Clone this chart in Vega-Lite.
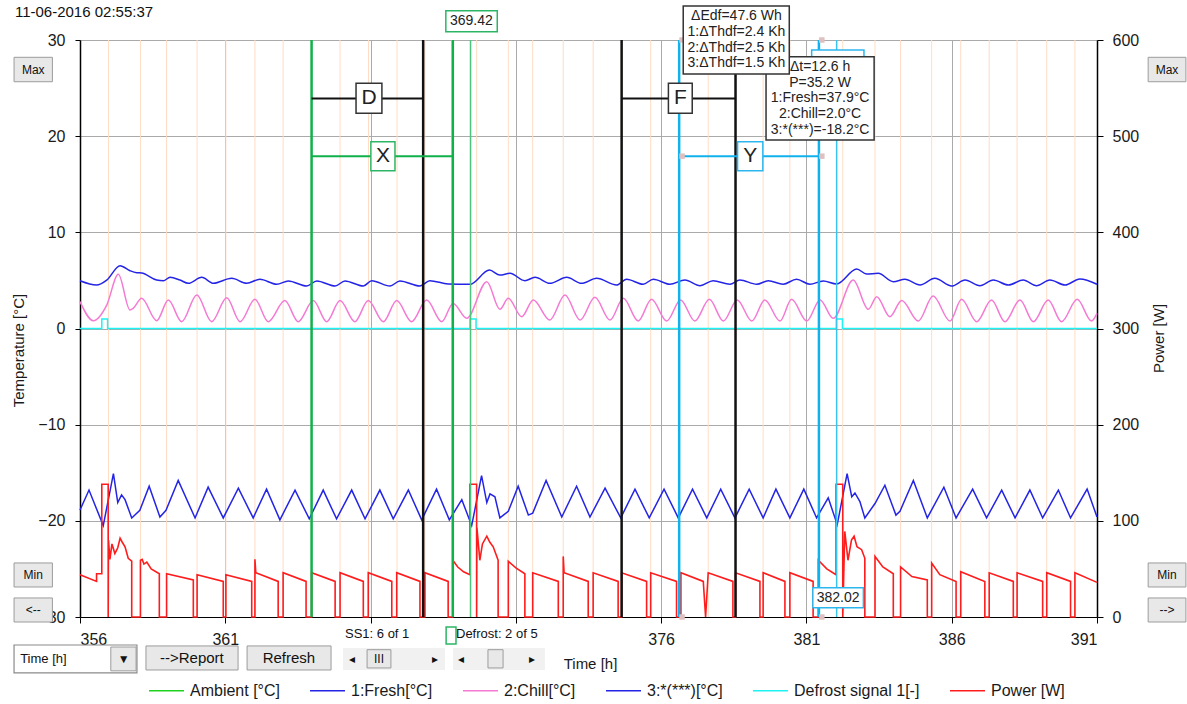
{
"$schema": "https://vega.github.io/schema/vega-lite/v6.json",
"width": 1017, "height": 577,
"autosize": {"type": "none"},
"padding": {"left": 80, "top": 40, "right": 90, "bottom": 87},
"background": "white",
"config": {
 "view": {"stroke": null},
 "font": "Liberation Sans",
 "axis": {"zindex": 0, "labelFont": "Liberation Sans", "labelFontSize": 16, "labelColor": "#1a1a1a", "titleFont": "Liberation Sans", "titleFontSize": 15, "titleFontWeight": "normal", "titleColor": "#1a1a1a", "domainColor": "#000000", "domainWidth": 1.5, "tickColor": "#000000", "tickWidth": 1, "gridColor": "#aaaaaa", "gridOpacity": 1, "gridWidth": 1}
},
"datasets": {
 "tan": [{"t":356.98},{"t":358.08},{"t":358.98},{"t":360.03},{"t":361.02},{"t":362.02},{"t":362.99},{"t":363.97},{"t":364.95},{"t":365.93},{"t":366.91},{"t":367.87},{"t":368.8},{"t":369.65},{"t":370.74},{"t":371.58},{"t":372.63},{"t":373.66},{"t":374.64},{"t":375.64},{"t":376.62},{"t":377.62},{"t":378.56},{"t":379.51},{"t":380.43},{"t":381.43},{"t":382.25},{"t":383.36},{"t":384.24},{"t":385.31},{"t":386.31},{"t":387.29},{"t":388.25},{"t":389.27},{"t":390.24}],
 "fresh": [{"t":356.0,"v":4.97},{"t":356.57,"v":4.52},{"t":356.92,"v":5.04},{"t":357.38,"v":6.53},{"t":357.72,"v":6.01},{"t":357.95,"v":5.8},{"t":358.12,"v":5.77},{"t":358.64,"v":5.04},{"t":358.87,"v":4.97},{"t":359.1,"v":5.32},{"t":359.44,"v":5.04},{"t":359.73,"v":4.7},{"t":360.19,"v":5.32},{"t":360.59,"v":4.7},{"t":361.22,"v":5.22},{"t":361.74,"v":4.7},{"t":362.19,"v":5.12},{"t":362.77,"v":4.6},{"t":363.17,"v":4.94},{"t":363.8,"v":4.42},{"t":364.15,"v":4.94},{"t":364.78,"v":4.42},{"t":365.12,"v":4.94},{"t":365.75,"v":4.42},{"t":366.04,"v":4.97},{"t":366.67,"v":4.42},{"t":367.01,"v":4.94},{"t":367.7,"v":4.42},{"t":368.04,"v":4.97},{"t":368.67,"v":4.63},{"t":369.42,"v":4.6},{"t":370.09,"v":6.08},{"t":370.45,"v":5.56},{"t":370.8,"v":5.74},{"t":371.31,"v":4.97},{"t":371.66,"v":5.32},{"t":372.17,"v":4.7},{"t":372.75,"v":5.32},{"t":373.26,"v":4.7},{"t":373.78,"v":5.22},{"t":374.47,"v":4.52},{"t":374.81,"v":5.12},{"t":375.38,"v":4.6},{"t":375.73,"v":5.12},{"t":376.3,"v":4.6},{"t":376.82,"v":5.04},{"t":377.34,"v":4.45},{"t":377.79,"v":4.97},{"t":378.37,"v":4.6},{"t":378.71,"v":5.04},{"t":379.29,"v":4.6},{"t":379.69,"v":4.97},{"t":380.2,"v":4.6},{"t":380.66,"v":5.12},{"t":381.12,"v":4.6},{"t":381.58,"v":4.94},{"t":382.04,"v":4.63},{"t":382.73,"v":6.19},{"t":383.07,"v":5.67},{"t":383.47,"v":5.74},{"t":383.99,"v":4.87},{"t":384.39,"v":5.12},{"t":384.91,"v":4.52},{"t":385.42,"v":5.22},{"t":386.0,"v":4.42},{"t":386.46,"v":5.04},{"t":386.97,"v":4.45},{"t":387.43,"v":5.04},{"t":387.95,"v":4.52},{"t":388.46,"v":5.04},{"t":388.92,"v":4.45},{"t":389.38,"v":5.04},{"t":389.9,"v":4.52},{"t":390.41,"v":5.15},{"t":391.0,"v":4.6}],
 "chill": [{"t":356.0,"v":2.79},{"t":356.46,"v":0.81},{"t":356.92,"v":2.44},{"t":357.32,"v":5.63},{"t":357.72,"v":1.92},{"t":357.83,"v":2.1},{"t":358.12,"v":3.14},{"t":358.64,"v":0.81},{"t":359.04,"v":2.96},{"t":359.5,"v":0.71},{"t":360.02,"v":3.48},{"t":360.53,"v":0.71},{"t":361.05,"v":3.2},{"t":361.51,"v":0.71},{"t":362.02,"v":3.04},{"t":362.48,"v":0.71},{"t":363.05,"v":2.9},{"t":363.51,"v":0.71},{"t":364.03,"v":2.9},{"t":364.49,"v":0.71},{"t":364.95,"v":2.9},{"t":365.46,"v":0.71},{"t":365.92,"v":2.9},{"t":366.44,"v":0.71},{"t":366.9,"v":2.9},{"t":367.41,"v":0.71},{"t":367.93,"v":2.96},{"t":368.45,"v":0.71},{"t":368.84,"v":2.6},{"t":369.31,"v":1.06},{"t":370.0,"v":4.87},{"t":370.45,"v":2.0},{"t":370.74,"v":3.14},{"t":371.2,"v":1.23},{"t":371.6,"v":2.96},{"t":372.17,"v":0.88},{"t":372.69,"v":3.48},{"t":373.21,"v":0.88},{"t":373.72,"v":3.24},{"t":374.24,"v":0.88},{"t":374.7,"v":3.14},{"t":375.21,"v":0.78},{"t":375.67,"v":3.04},{"t":376.19,"v":0.78},{"t":376.67,"v":2.96},{"t":377.16,"v":0.78},{"t":377.66,"v":3.04},{"t":378.14,"v":0.78},{"t":378.62,"v":2.96},{"t":379.12,"v":0.78},{"t":379.57,"v":2.96},{"t":380.09,"v":0.78},{"t":380.49,"v":3.04},{"t":381.01,"v":0.78},{"t":381.47,"v":2.96},{"t":381.92,"v":1.06},{"t":382.61,"v":5.04},{"t":383.13,"v":2.0},{"t":383.42,"v":3.31},{"t":383.87,"v":1.23},{"t":384.28,"v":2.9},{"t":384.85,"v":0.78},{"t":385.36,"v":3.38},{"t":385.94,"v":0.78},{"t":386.34,"v":3.04},{"t":386.86,"v":0.71},{"t":387.37,"v":2.96},{"t":387.83,"v":0.71},{"t":388.35,"v":2.96},{"t":388.81,"v":0.71},{"t":389.32,"v":2.96},{"t":389.78,"v":0.71},{"t":390.32,"v":3.04},{"t":390.81,"v":0.78},{"t":391.0,"v":1.58}],
 "frz": [{"t":356.0,"v":-18.87},{"t":356.31,"v":-16.8},{"t":356.8,"v":-20.5},{"t":357.15,"v":-15.1},{"t":357.3,"v":-18.1},{"t":357.43,"v":-17.3},{"t":357.55,"v":-17.8},{"t":357.78,"v":-19.7},{"t":358.06,"v":-18.9},{"t":358.38,"v":-16.4},{"t":358.75,"v":-19.6},{"t":358.96,"v":-18.9},{"t":359.38,"v":-15.8},{"t":359.96,"v":-19.7},{"t":360.41,"v":-16.5},{"t":360.93,"v":-19.7},{"t":361.45,"v":-16.6},{"t":361.96,"v":-19.7},{"t":362.42,"v":-16.7},{"t":362.88,"v":-19.9},{"t":363.4,"v":-16.8},{"t":363.89,"v":-19.8},{"t":364.37,"v":-16.8},{"t":364.83,"v":-19.8},{"t":365.35,"v":-16.8},{"t":365.81,"v":-19.8},{"t":366.32,"v":-16.8},{"t":366.78,"v":-19.8},{"t":367.3,"v":-16.8},{"t":367.76,"v":-19.9},{"t":368.27,"v":-16.7},{"t":368.71,"v":-19.9},{"t":369.14,"v":-17.8},{"t":369.48,"v":-20.5},{"t":369.82,"v":-15.3},{"t":370.0,"v":-18.1},{"t":370.11,"v":-17.2},{"t":370.28,"v":-17.5},{"t":370.45,"v":-19.7},{"t":370.74,"v":-19.0},{"t":371.08,"v":-16.4},{"t":371.43,"v":-19.4},{"t":371.58,"v":-19.2},{"t":372.04,"v":-15.8},{"t":372.58,"v":-19.6},{"t":373.09,"v":-16.4},{"t":373.55,"v":-19.6},{"t":374.07,"v":-16.6},{"t":374.61,"v":-19.7},{"t":375.1,"v":-16.7},{"t":375.59,"v":-19.7},{"t":376.1,"v":-16.7},{"t":376.59,"v":-19.7},{"t":377.08,"v":-16.7},{"t":377.57,"v":-19.7},{"t":378.05,"v":-16.7},{"t":378.54,"v":-19.7},{"t":379.03,"v":-16.7},{"t":379.51,"v":-19.7},{"t":379.95,"v":-16.7},{"t":380.43,"v":-19.7},{"t":380.91,"v":-16.7},{"t":381.35,"v":-19.7},{"t":381.75,"v":-17.6},{"t":382.06,"v":-20.4},{"t":382.4,"v":-15.1},{"t":382.56,"v":-17.5},{"t":382.67,"v":-17.1},{"t":382.84,"v":-18.0},{"t":383.01,"v":-19.7},{"t":383.36,"v":-18.2},{"t":383.7,"v":-16.3},{"t":384.08,"v":-19.4},{"t":384.22,"v":-19.0},{"t":384.68,"v":-15.8},{"t":385.16,"v":-19.7},{"t":385.73,"v":-16.5},{"t":386.15,"v":-19.7},{"t":386.72,"v":-16.7},{"t":387.2,"v":-19.7},{"t":387.72,"v":-16.8},{"t":388.18,"v":-19.7},{"t":388.69,"v":-16.8},{"t":389.13,"v":-19.7},{"t":389.67,"v":-16.8},{"t":390.09,"v":-19.7},{"t":390.66,"v":-16.7},{"t":391.0,"v":-19.6}],
 "defrost": [{"t":356.0,"v":0},{"t":356.75,"v":0},{"t":356.75,"v":1},{"t":356.95,"v":1},{"t":356.95,"v":0},{"t":369.42,"v":0},{"t":369.42,"v":1},{"t":369.63,"v":1},{"t":369.63,"v":0},{"t":382.03,"v":0},{"t":382.03,"v":1},{"t":382.24,"v":1},{"t":382.24,"v":0},{"t":391.0,"v":0}],
 "power": [{"t":356.0,"p":44},{"t":356.57,"p":37},{"t":356.57,"p":45},{"t":356.75,"p":45},{"t":356.75,"p":138},{"t":356.97,"p":138},{"t":356.97,"p":0},{"t":356.98,"p":80},{"t":357.03,"p":60},{"t":357.1,"p":76},{"t":357.2,"p":66},{"t":357.3,"p":72},{"t":357.38,"p":82},{"t":357.45,"p":78},{"t":357.55,"p":73},{"t":357.66,"p":61},{"t":357.78,"p":58},{"t":357.78,"p":0},{"t":358.08,"p":0},{"t":358.08,"p":59},{"t":358.14,"p":60},{"t":358.2,"p":55},{"t":358.3,"p":57},{"t":358.45,"p":50},{"t":358.73,"p":45},{"t":358.73,"p":0},{"t":358.98,"p":0},{"t":358.98,"p":45},{"t":359.9,"p":38.5},{"t":359.9,"p":0},{"t":360.03,"p":0},{"t":360.03,"p":44},{"t":360.93,"p":37},{"t":360.93,"p":0},{"t":361.02,"p":0},{"t":361.02,"p":44},{"t":361.91,"p":37},{"t":361.91,"p":0},{"t":362.02,"p":0},{"t":362.02,"p":60},{"t":362.05,"p":46},{"t":362.82,"p":37},{"t":362.82,"p":0},{"t":362.99,"p":0},{"t":362.99,"p":46},{"t":363.78,"p":37},{"t":363.78,"p":0},{"t":363.97,"p":0},{"t":363.97,"p":46},{"t":364.78,"p":37},{"t":364.78,"p":0},{"t":364.95,"p":0},{"t":364.95,"p":46},{"t":365.75,"p":37},{"t":365.75,"p":0},{"t":365.92,"p":0},{"t":365.92,"p":46},{"t":366.73,"p":37},{"t":366.73,"p":0},{"t":366.9,"p":0},{"t":366.9,"p":46},{"t":367.7,"p":37},{"t":367.7,"p":0},{"t":367.87,"p":0},{"t":367.87,"p":46},{"t":368.67,"p":37},{"t":368.67,"p":0},{"t":368.83,"p":0},{"t":368.83,"p":59},{"t":369.0,"p":52},{"t":369.2,"p":47},{"t":369.42,"p":44},{"t":369.42,"p":138},{"t":369.65,"p":138},{"t":369.65,"p":0},{"t":369.66,"p":93},{"t":369.76,"p":59},{"t":369.85,"p":76},{"t":370.0,"p":84},{"t":370.1,"p":78},{"t":370.22,"p":73},{"t":370.39,"p":59},{"t":370.39,"p":0},{"t":370.74,"p":0},{"t":370.74,"p":58},{"t":371.0,"p":51},{"t":371.31,"p":45},{"t":371.31,"p":0},{"t":371.58,"p":0},{"t":371.58,"p":46},{"t":372.46,"p":37},{"t":372.46,"p":0},{"t":372.63,"p":0},{"t":372.63,"p":63},{"t":372.66,"p":46},{"t":373.49,"p":37},{"t":373.49,"p":0},{"t":373.66,"p":0},{"t":373.66,"p":46},{"t":374.52,"p":37},{"t":374.52,"p":0},{"t":374.64,"p":0},{"t":374.64,"p":46},{"t":375.5,"p":37},{"t":375.5,"p":0},{"t":375.64,"p":0},{"t":375.64,"p":46},{"t":376.53,"p":37},{"t":376.53,"p":0},{"t":376.68,"p":0},{"t":376.68,"p":46},{"t":377.45,"p":37},{"t":377.53,"p":0},{"t":377.62,"p":46},{"t":378.47,"p":37},{"t":378.47,"p":0},{"t":378.56,"p":0},{"t":378.56,"p":46},{"t":379.4,"p":37},{"t":379.4,"p":0},{"t":379.51,"p":0},{"t":379.51,"p":46},{"t":380.26,"p":37},{"t":380.26,"p":0},{"t":380.43,"p":0},{"t":380.43,"p":46},{"t":381.23,"p":37},{"t":381.23,"p":0},{"t":381.41,"p":0},{"t":381.41,"p":59},{"t":381.7,"p":50},{"t":382.02,"p":44},{"t":382.02,"p":138},{"t":382.25,"p":138},{"t":382.25,"p":0},{"t":382.32,"p":89},{"t":382.43,"p":59},{"t":382.55,"p":80},{"t":382.64,"p":84},{"t":382.74,"p":73},{"t":382.9,"p":70},{"t":383.01,"p":61},{"t":383.01,"p":0},{"t":383.36,"p":0},{"t":383.36,"p":63},{"t":383.63,"p":52},{"t":383.99,"p":45},{"t":383.99,"p":0},{"t":384.24,"p":0},{"t":384.24,"p":52},{"t":384.63,"p":42},{"t":385.16,"p":38.5},{"t":385.16,"p":0},{"t":385.31,"p":0},{"t":385.31,"p":56},{"t":385.59,"p":44},{"t":386.15,"p":37},{"t":386.15,"p":0},{"t":386.31,"p":0},{"t":386.31,"p":47},{"t":387.14,"p":37},{"t":387.14,"p":0},{"t":387.29,"p":0},{"t":387.29,"p":46},{"t":388.12,"p":37},{"t":388.12,"p":0},{"t":388.25,"p":0},{"t":388.25,"p":46},{"t":389.13,"p":37},{"t":389.13,"p":0},{"t":389.27,"p":0},{"t":389.27,"p":46},{"t":390.09,"p":37},{"t":390.09,"p":0},{"t":390.24,"p":0},{"t":390.24,"p":46},{"t":391.0,"p":36}],
 "cursors": [{"t":363.97,"k":"g"},{"t":368.83,"k":"g"},{"t":369.44,"k":"gt"},{"t":367.81,"k":"b"},{"t":374.64,"k":"b"},{"t":378.56,"k":"b"},{"t":376.62,"k":"c"},{"t":381.43,"k":"c"},{"t":382.04,"k":"ct"}],
 "brackets": [{"t":363.97,"t2":367.81,"v":23.92,"k":"b"},{"t":374.64,"t2":378.56,"v":23.92,"k":"b"},{"t":363.97,"t2":368.83,"v":17.92,"k":"g"},{"t":376.62,"t2":381.43,"v":17.92,"k":"c"}],
 "marks": [{"t":376.72,"v":17.92},{"t":381.53,"v":17.92},{"t":376.72,"v":30},{"t":381.53,"v":30},{"t":376.72,"v":-30},{"t":381.53,"v":-30}],
 "hid": [{"t":381.18,"t2":382.98,"v":28.96,"v2":26.6,"txt":"382.02","tv":27.75,"tt":382.08}],
 "boxes": [{"t":379.61,"t2":383.33,"v":28.26,"v2":19.6,"k":"b"},{"t":376.76,"t2":380.41,"v":33.54,"v2":26.46,"k":"b"},{"t":365.5,"t2":366.39,"v":25.5,"v2":22.38,"k":"b"},{"t":366.01,"t2":366.84,"v":19.42,"v2":16.41,"k":"g"},{"t":376.25,"t2":377.07,"v":25.5,"v2":22.38,"k":"b"},{"t":378.63,"t2":379.5,"v":19.42,"v2":16.41,"k":"c"},{"t":368.59,"t2":370.36,"v":33.05,"v2":30.86,"k":"g"},{"t":381.22,"t2":382.96,"v":-26.95,"v2":-29.03,"k":"c"},{"t":368.6,"t2":368.94,"v":-31.04,"v2":-32.81,"k":"g"},{"t":353.73,"t2":357.96,"v":-32.91,"v2":-35.82,"k":"d"}],
 "buttons": [{"t":365.05,"t2":368.56,"v":-33.22,"v2":-35.51,"k":"bar"},{"t":368.84,"t2":372.0,"v":-33.22,"v2":-35.51,"k":"bar"},{"t":353.73,"t2":355.05,"v":28.2,"v2":25.66,"k":"btn"},{"t":353.73,"t2":355.05,"v":-24.38,"v2":-26.88,"k":"btn"},{"t":353.73,"t2":355.05,"v":-28.02,"v2":-30.52,"k":"btn"},{"t":392.76,"t2":394.06,"v":28.2,"v2":25.66,"k":"btn"},{"t":392.76,"t2":394.06,"v":-24.38,"v2":-26.88,"k":"btn"},{"t":392.76,"t2":394.06,"v":-28.02,"v2":-30.52,"k":"btn"},{"t":358.27,"t2":361.44,"v":-33.01,"v2":-35.51,"k":"btn"},{"t":361.75,"t2":364.64,"v":-33.01,"v2":-35.51,"k":"btn"},{"t":357.06,"t2":357.93,"v":-33.12,"v2":-35.6,"k":"btn"},{"t":365.88,"t2":366.7,"v":-33.4,"v2":-35.3,"k":"btn"},{"t":370.04,"t2":370.56,"v":-33.4,"v2":-35.3,"k":"btn"}],
 "ann": [{"t":378.59,"v":32.5,"txt":"ΔEdf=47.6 Wh\n1:ΔThdf=2.4 Kh\n2:ΔThdf=2.5 Kh\n3:ΔThdf=1.5 Kh"},{"t":381.47,"v":27.22,"txt":"Δt=12.6 h\nP=35.2 W\n1:Fresh=37.9°C\n2:Chill=2.0°C\n3:*(***)=-18.2°C"},{"t":369.47,"v":31.98,"txt":"369.42"},{"t":382.09,"v":-27.99,"txt":"382.02"}],
 "letters": [{"t":365.95,"v":23.92,"txt":"D"},{"t":366.43,"v":17.92,"txt":"X"},{"t":376.66,"v":23.92,"txt":"F"},{"t":379.07,"v":17.92,"txt":"Y"}],
 "btxt": [{"t":354.39,"v":26.93,"txt":"Max"},{"t":354.39,"v":-25.63,"txt":"Min"},{"t":354.39,"v":-29.27,"txt":"<--"},{"t":393.41,"v":26.93,"txt":"Max"},{"t":393.41,"v":-25.63,"txt":"Min"},{"t":393.41,"v":-29.27,"txt":"-->"},{"t":357.5,"v":-34.36,"txt":"▼"},{"t":365.36,"v":-34.36,"txt":"◂"},{"t":368.22,"v":-34.36,"txt":"▸"},{"t":369.11,"v":-34.36,"txt":"◂"},{"t":371.56,"v":-34.36,"txt":"▸"},{"t":366.29,"v":-34.36,"txt":"III"}],
 "bigtxt": [{"t":359.85,"v":-34.26,"txt":"-->Report"},{"t":363.19,"v":-34.26,"txt":"Refresh"}],
 "ltxt": [{"t":353.94,"v":-34.4,"txt":"Time [h]"},{"t":365.12,"v":-31.77,"txt":"SS1:  6 of 1"},{"t":368.94,"v":-31.77,"txt":"Defrost: 2 of 5"}],
 "date": [{"t":353.76,"v":32.91,"txt":"11-06-2016  02:55:37"}]
},
"resolve": {"scale": {"y": "independent"}},
"layer": [
 {
  "layer": [
   {"data": {"name": "tan"}, "mark": {"type": "rule", "color": "#ffdcc4", "strokeWidth": 1},
    "encoding": {"x": {"field": "t", "type": "quantitative", "scale": {"domain": [356, 391], "nice": false, "zero": false},
      "axis": {"values": [356, 361, 366, 371, 376, 381, 386, 391], "title": "Time  [h]", "titleX": 510, "titleY": 46, "titleAlign": "center", "titleBaseline": "middle", "grid": true, "tickSize": 6, "labelPadding": 8, "domainWidth": 1, "labelExpr": "datum.value==366||datum.value==371 ? '' : datum.label"}}}},
   {"data": {"name": "fresh"}, "mark": {"type": "line", "strokeWidth": 1.5, "interpolate": "monotone"},
    "encoding": {"x": {"field": "t", "type": "quantitative", "title": "Time  [h]"},
     "y": {"field": "v", "type": "quantitative", "scale": {"domain": [-30, 30], "nice": false, "zero": false},
      "axis": {"orient": "left", "values": [-30, -20, -10, 0, 10, 20, 30], "title": "Temperature  [°C]", "titleX": -62, "titleY": 310, "titleAngle": 270, "titleAlign": "center", "titleBaseline": "middle", "grid": true, "tickSize": 5, "labelPadding": 10}},
     "color": {"datum": "1:Fresh[°C]", "scale": {"domain": ["Ambient [°C]", "1:Fresh[°C]", "2:Chill[°C]", "3:*(***)[°C]", "Defrost signal 1[-]", "Power [W]"], "range": ["#1ed21e", "#2424e6", "#f47ad4", "#2424e6", "#1ff2f2", "#ff1c1c"]},
      "legend": {"orient": "none", "legendX": 68, "legendY": 632, "direction": "horizontal", "title": null, "symbolType": "stroke", "symbolSize": 1225, "symbolStrokeWidth": 1.5, "labelFontSize": 16, "labelFont": "Liberation Sans", "labelColor": "#1a1a1a", "columnPadding": 27, "labelOffset": 5}}}},
   {"data": {"name": "chill"}, "mark": {"type": "line", "strokeWidth": 1.5, "interpolate": "monotone"},
    "encoding": {"x": {"field": "t", "type": "quantitative", "title": "Time  [h]"}, "y": {"field": "v", "type": "quantitative"}, "color": {"datum": "2:Chill[°C]"}}},
   {"data": {"name": "frz"}, "mark": {"type": "line", "strokeWidth": 1.5},
    "encoding": {"x": {"field": "t", "type": "quantitative", "title": "Time  [h]"}, "y": {"field": "v", "type": "quantitative"}, "color": {"datum": "3:*(***)[°C]"}}},
   {"data": {"name": "defrost"}, "mark": {"type": "line", "strokeWidth": 1.5},
    "encoding": {"x": {"field": "t", "type": "quantitative", "title": "Time  [h]"}, "y": {"field": "v", "type": "quantitative"}, "color": {"datum": "Defrost signal 1[-]"}, "order": {"value": null}}}
  ]
 },
 {"data": {"name": "power"}, "mark": {"type": "line", "strokeWidth": 1.6},
  "encoding": {"x": {"field": "t", "type": "quantitative", "title": "Time  [h]"},
   "y": {"field": "p", "type": "quantitative", "scale": {"domain": [0, 600], "nice": false, "zero": false},
    "axis": {"orient": "right", "values": [0, 100, 200, 300, 400, 500, 600], "title": "Power [W]", "titleX": 61, "titleY": 298, "titleAngle": 270, "titleAlign": "center", "titleBaseline": "middle", "grid": false, "tickSize": 6, "labelPadding": 9}},
   "color": {"datum": "Power [W]"}, "order": {"value": null}}},
 {
  "layer": [
   {"data": {"name": "cursors"}, "transform": [{"filter": "datum.k=='g'"}], "mark": {"type": "rule", "color": "#10b04a", "strokeWidth": 2.5},
    "encoding": {"x": {"field": "t", "type": "quantitative", "title": "Time  [h]"}}},
   {"data": {"name": "cursors"}, "transform": [{"filter": "datum.k=='gt'"}], "mark": {"type": "rule", "color": "#4cc47c", "strokeWidth": 1.5},
    "encoding": {"x": {"field": "t", "type": "quantitative", "title": "Time  [h]"}}},
   {"data": {"name": "cursors"}, "transform": [{"filter": "datum.k=='b'"}], "mark": {"type": "rule", "color": "#111111", "strokeWidth": 2.5},
    "encoding": {"x": {"field": "t", "type": "quantitative", "title": "Time  [h]"}}},
   {"data": {"name": "cursors"}, "transform": [{"filter": "datum.k=='c'"}], "mark": {"type": "rule", "color": "#10b2ee", "strokeWidth": 2.5},
    "encoding": {"x": {"field": "t", "type": "quantitative", "title": "Time  [h]"}}},
   {"data": {"name": "cursors"}, "transform": [{"filter": "datum.k=='ct'"}], "mark": {"type": "rule", "color": "#38c4ee", "strokeWidth": 1.5},
    "encoding": {"x": {"field": "t", "type": "quantitative", "title": "Time  [h]"}}},
   {"data": {"name": "brackets"}, "transform": [{"filter": "datum.k=='b'"}], "mark": {"type": "rule", "strokeWidth": 2, "color": "#111111"},
    "encoding": {"x": {"field": "t", "type": "quantitative", "title": "Time  [h]"}, "x2": {"field": "t2"},
     "y": {"field": "v", "type": "quantitative", "scale": {"domain": [-30, 30], "nice": false, "zero": false}, "axis": null}}},
   {"data": {"name": "brackets"}, "transform": [{"filter": "datum.k=='g'"}], "mark": {"type": "rule", "strokeWidth": 2, "color": "#10b04a"},
    "encoding": {"x": {"field": "t", "type": "quantitative", "title": "Time  [h]"}, "x2": {"field": "t2"}, "y": {"field": "v", "type": "quantitative", "axis": null}}},
   {"data": {"name": "brackets"}, "transform": [{"filter": "datum.k=='c'"}], "mark": {"type": "rule", "strokeWidth": 2, "color": "#10b2ee"},
    "encoding": {"x": {"field": "t", "type": "quantitative", "title": "Time  [h]"}, "x2": {"field": "t2"}, "y": {"field": "v", "type": "quantitative", "axis": null}}},
   {"data": {"name": "marks"}, "mark": {"type": "point", "shape": "square", "filled": true, "size": 30, "color": "#dfc0c0", "opacity": 1},
    "encoding": {"x": {"field": "t", "type": "quantitative", "title": "Time  [h]"}, "y": {"field": "v", "type": "quantitative", "axis": null}}},
   {"data": {"name": "hid"}, "mark": {"type": "rect", "fill": "white", "stroke": "#2cb6ee", "strokeWidth": 1.5},
    "encoding": {"x": {"field": "t", "type": "quantitative", "title": "Time  [h]"}, "x2": {"field": "t2"}, "y": {"field": "v", "type": "quantitative", "axis": null}, "y2": {"field": "v2"}}},
   {"data": {"name": "hid"}, "mark": {"type": "text", "fontSize": 14, "fontWeight": "bold", "font": "Liberation Sans", "color": "#222222", "align": "center", "baseline": "middle"},
    "encoding": {"x": {"field": "tt", "type": "quantitative", "title": "Time  [h]"}, "y": {"field": "tv", "type": "quantitative", "axis": null}, "text": {"field": "txt"}}},
   {"data": {"name": "boxes"}, "transform": [{"filter": "datum.k=='b'"}], "mark": {"type": "rect", "fill": "white", "stroke": "#333333", "strokeWidth": 1.5},
    "encoding": {"x": {"field": "t", "type": "quantitative", "title": "Time  [h]"}, "x2": {"field": "t2"}, "y": {"field": "v", "type": "quantitative", "axis": null}, "y2": {"field": "v2"}}},
   {"data": {"name": "boxes"}, "transform": [{"filter": "datum.k=='g'"}], "mark": {"type": "rect", "fill": "white", "stroke": "#2cb565", "strokeWidth": 1.5},
    "encoding": {"x": {"field": "t", "type": "quantitative", "title": "Time  [h]"}, "x2": {"field": "t2"}, "y": {"field": "v", "type": "quantitative", "axis": null}, "y2": {"field": "v2"}}},
   {"data": {"name": "boxes"}, "transform": [{"filter": "datum.k=='c'"}], "mark": {"type": "rect", "fill": "white", "stroke": "#2cb6ee", "strokeWidth": 1.5},
    "encoding": {"x": {"field": "t", "type": "quantitative", "title": "Time  [h]"}, "x2": {"field": "t2"}, "y": {"field": "v", "type": "quantitative", "axis": null}, "y2": {"field": "v2"}}},
   {"data": {"name": "boxes"}, "transform": [{"filter": "datum.k=='d'"}], "mark": {"type": "rect", "fill": "white", "stroke": "#8a8a8a", "strokeWidth": 1.2},
    "encoding": {"x": {"field": "t", "type": "quantitative", "title": "Time  [h]"}, "x2": {"field": "t2"}, "y": {"field": "v", "type": "quantitative", "axis": null}, "y2": {"field": "v2"}}},
   {"data": {"name": "buttons"}, "transform": [{"filter": "datum.k=='bar'"}], "mark": {"type": "rect", "fill": "#f1f1f1"},
    "encoding": {"x": {"field": "t", "type": "quantitative", "title": "Time  [h]"}, "x2": {"field": "t2"}, "y": {"field": "v", "type": "quantitative", "axis": null}, "y2": {"field": "v2"}}},
   {"data": {"name": "buttons"}, "transform": [{"filter": "datum.k=='btn'"}], "mark": {"type": "rect", "fill": "#e8e8e8", "stroke": "#9c9c9c", "strokeWidth": 1},
    "encoding": {"x": {"field": "t", "type": "quantitative", "title": "Time  [h]"}, "x2": {"field": "t2"}, "y": {"field": "v", "type": "quantitative", "axis": null}, "y2": {"field": "v2"}}},
   {"data": {"name": "ann"}, "mark": {"type": "text", "fontSize": 14, "font": "Liberation Sans", "color": "#222222", "align": "center", "baseline": "middle", "lineBreak": "\n", "lineHeight": 15.8},
    "encoding": {"x": {"field": "t", "type": "quantitative", "title": "Time  [h]"}, "y": {"field": "v", "type": "quantitative", "axis": null}, "text": {"field": "txt"}}},
   {"data": {"name": "letters"}, "mark": {"type": "text", "fontSize": 21, "font": "Liberation Sans", "color": "#222222", "align": "center", "baseline": "middle"},
    "encoding": {"x": {"field": "t", "type": "quantitative", "title": "Time  [h]"}, "y": {"field": "v", "type": "quantitative", "axis": null}, "text": {"field": "txt"}}},
   {"data": {"name": "btxt"}, "mark": {"type": "text", "fontSize": 12, "font": "Liberation Sans", "color": "#111111", "align": "center", "baseline": "middle"},
    "encoding": {"x": {"field": "t", "type": "quantitative", "title": "Time  [h]"}, "y": {"field": "v", "type": "quantitative", "axis": null}, "text": {"field": "txt"}}},
   {"data": {"name": "bigtxt"}, "mark": {"type": "text", "fontSize": 15, "font": "Liberation Sans", "color": "#111111", "align": "center", "baseline": "middle"},
    "encoding": {"x": {"field": "t", "type": "quantitative", "title": "Time  [h]"}, "y": {"field": "v", "type": "quantitative", "axis": null}, "text": {"field": "txt"}}},
   {"data": {"name": "ltxt"}, "mark": {"type": "text", "fontSize": 13, "font": "Liberation Sans", "color": "#111111", "align": "left", "baseline": "middle"},
    "encoding": {"x": {"field": "t", "type": "quantitative", "title": "Time  [h]"}, "y": {"field": "v", "type": "quantitative", "axis": null}, "text": {"field": "txt"}}},
   {"data": {"name": "date"}, "mark": {"type": "text", "fontSize": 15, "font": "Liberation Sans", "color": "#111111", "align": "left", "baseline": "middle"},
    "encoding": {"x": {"field": "t", "type": "quantitative", "title": "Time  [h]"}, "y": {"field": "v", "type": "quantitative", "axis": null}, "text": {"field": "txt"}}}
  ]
 }
]
}
